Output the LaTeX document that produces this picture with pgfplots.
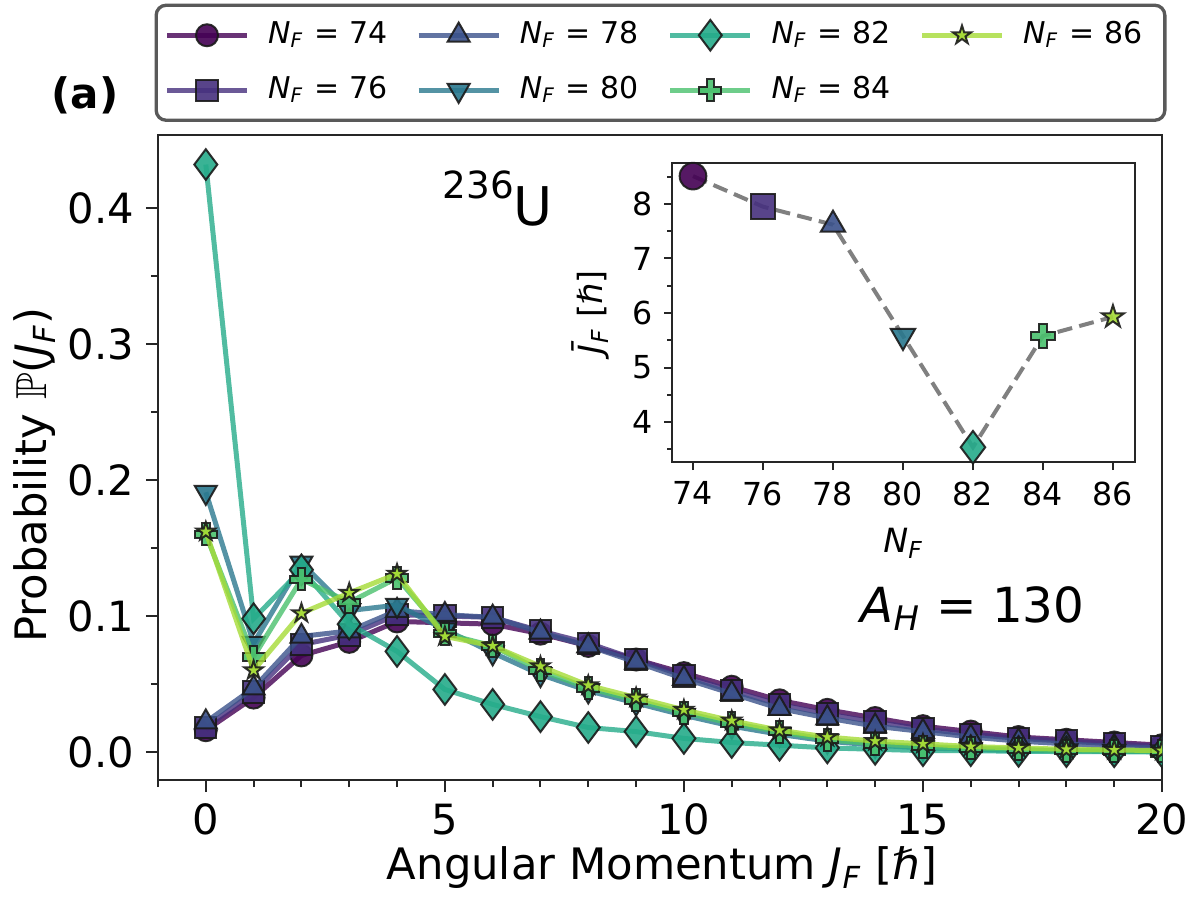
\documentclass[border=0pt]{standalone}
\usepackage{fontspec}
\setmainfont{DejaVu Sans}
\usepackage{amssymb}
\usepackage{pgfplots}
\pgfplotsset{compat=1.18}

\definecolor{c74}{HTML}{440154}
\definecolor{c76}{HTML}{46307E}
\definecolor{c78}{HTML}{3B528B}
\definecolor{c80}{HTML}{2A788E}
\definecolor{c82}{HTML}{25AB8A}
\definecolor{c84}{HTML}{4AC16D}
\definecolor{c86}{HTML}{A5DB36}
\definecolor{edge}{HTML}{1A1A1A}

\pgfdeclareplotmark{fplus}{%
  \pgfpathmoveto{\pgfqpoint{-0.34\pgfplotmarksize}{\pgfplotmarksize}}%
  \pgfpathlineto{\pgfqpoint{0.34\pgfplotmarksize}{\pgfplotmarksize}}%
  \pgfpathlineto{\pgfqpoint{0.34\pgfplotmarksize}{0.34\pgfplotmarksize}}%
  \pgfpathlineto{\pgfqpoint{\pgfplotmarksize}{0.34\pgfplotmarksize}}%
  \pgfpathlineto{\pgfqpoint{\pgfplotmarksize}{-0.34\pgfplotmarksize}}%
  \pgfpathlineto{\pgfqpoint{0.34\pgfplotmarksize}{-0.34\pgfplotmarksize}}%
  \pgfpathlineto{\pgfqpoint{0.34\pgfplotmarksize}{-\pgfplotmarksize}}%
  \pgfpathlineto{\pgfqpoint{-0.34\pgfplotmarksize}{-\pgfplotmarksize}}%
  \pgfpathlineto{\pgfqpoint{-0.34\pgfplotmarksize}{-0.34\pgfplotmarksize}}%
  \pgfpathlineto{\pgfqpoint{-\pgfplotmarksize}{-0.34\pgfplotmarksize}}%
  \pgfpathlineto{\pgfqpoint{-\pgfplotmarksize}{0.34\pgfplotmarksize}}%
  \pgfpathlineto{\pgfqpoint{-0.34\pgfplotmarksize}{0.34\pgfplotmarksize}}%
  \pgfpathclose\pgfusepathqfillstroke}
\pgfdeclareplotmark{fstar}{%
  \pgfpathmoveto{\pgfqpoint{0pt}{\pgfplotmarksize}}%
  \pgfpathlineto{\pgfqpoint{-0.2245\pgfplotmarksize}{0.309\pgfplotmarksize}}%
  \pgfpathlineto{\pgfqpoint{-0.9511\pgfplotmarksize}{0.309\pgfplotmarksize}}%
  \pgfpathlineto{\pgfqpoint{-0.3633\pgfplotmarksize}{-0.118\pgfplotmarksize}}%
  \pgfpathlineto{\pgfqpoint{-0.5878\pgfplotmarksize}{-0.809\pgfplotmarksize}}%
  \pgfpathlineto{\pgfqpoint{0pt}{-0.382\pgfplotmarksize}}%
  \pgfpathlineto{\pgfqpoint{0.5878\pgfplotmarksize}{-0.809\pgfplotmarksize}}%
  \pgfpathlineto{\pgfqpoint{0.3633\pgfplotmarksize}{-0.118\pgfplotmarksize}}%
  \pgfpathlineto{\pgfqpoint{0.9511\pgfplotmarksize}{0.309\pgfplotmarksize}}%
  \pgfpathlineto{\pgfqpoint{0.2245\pgfplotmarksize}{0.309\pgfplotmarksize}}%
  \pgfpathclose\pgfusepathqfillstroke}

\newcommand{\sub}[1]{\textsubscript{\textit{#1}}}
\newcommand{\NF}{\textit{N}\sub{F}}

\pgfplotsset{
  base/.style={line width=1.5pt, opacity=0.8},
  s74/.style={base, color=c74, mark=*, mark size=3.3pt, mark options={solid, fill=c74, draw=edge, line width=0.6pt, opacity=0.9}},
  s76/.style={base, color=c76, mark=square*, mark size=3.2pt, mark options={solid, fill=c76, draw=edge, line width=0.6pt, opacity=0.9}},
  s78/.style={base, color=c78, mark=triangle*, mark size=3.8pt, mark options={solid, fill=c78, draw=edge, line width=0.6pt, opacity=0.9}},
  s80/.style={base, color=c80, mark=triangle*, mark size=3.8pt, mark options={solid, fill=c80, draw=edge, line width=0.6pt, opacity=0.9, rotate=180}},
  s82/.style={base, color=c82, mark=diamond*, mark size=4.6pt, mark options={solid, fill=c82, draw=edge, line width=0.6pt, opacity=0.9}},
  s84/.style={base, color=c84, mark=fplus, mark size=3.3pt, mark options={solid, fill=c84, draw=edge, line width=0.6pt, opacity=0.9}},
  s86/.style={base, color=c86, mark=fstar, mark size=2.9pt, mark options={solid, fill=c86, draw=edge, line width=0.6pt, opacity=0.9}},
}

\pgfplotstableread{
J   p74    p76    p78    p80    p82    p84    p86
0   0.016  0.018  0.022  0.191  0.432  0.160  0.162
1   0.040  0.044  0.047  0.080  0.098  0.070  0.060
2   0.071  0.079  0.085  0.139  0.134  0.127  0.102
3   0.081  0.086  0.089  0.104  0.094  0.110  0.117
4   0.096  0.101  0.104  0.108  0.074  0.128  0.131
5   0.095  0.100  0.101  0.090  0.046  0.087  0.085
6   0.094  0.099  0.099  0.073  0.035  0.078  0.078
7   0.087  0.089  0.088  0.057  0.026  0.060  0.063
8   0.078  0.080  0.078  0.045  0.018  0.047  0.049
9   0.068  0.068  0.066  0.036  0.015  0.038  0.040
10  0.058  0.056  0.054  0.027  0.010  0.029  0.031
11  0.048  0.045  0.043  0.019  0.007  0.021  0.023
12  0.038  0.035  0.032  0.013  0.005  0.015  0.016
13  0.031  0.028  0.025  0.008  0.003  0.009  0.011
14  0.025  0.022  0.019  0.005  0.002  0.006  0.008
15  0.019  0.017  0.015  0.003  0.001  0.004  0.006
16  0.015  0.013  0.011  0.002  0.001  0.003  0.004
17  0.011  0.010  0.008  0.001  0.0005 0.002  0.003
18  0.009  0.008  0.006  0.001  0.0003 0.001  0.002
19  0.007  0.006  0.004  0.0005 0.0002 0.001  0.0015
20  0.005  0.004  0.003  0.0003 0.0001 0.0005 0.001
}\probtable

\begin{document}
\begin{tikzpicture}
\begin{axis}[
  at={(0,0)}, anchor=south west,
  scale only axis, width=301.2pt, height=193.5pt,
  xmin=-1, xmax=20, ymin=-0.0206, ymax=0.4537,
  xtick={0,5,10,15,20},
  minor xtick={-1,1,2,3,4,6,7,8,9,11,12,13,14,16,17,18,19},
  ytick={0,0.1,0.2,0.3,0.4},
  minor ytick={0.05,0.15,0.25,0.35},
  scaled y ticks=false,
  yticklabel style={/pgf/number format/fixed, /pgf/number format/precision=1, /pgf/number format/fixed zerofill},
  /pgf/number format/assume math mode=true,
  tick pos=left, tick align=outside,
  major tick length=3.6pt, minor tick length=2.1pt,
  every tick/.style={black!85, line width=0.6pt},
  axis line style={black!85, line width=0.6pt},
  tick label style={font=\fontsize{12.5}{14}\selectfont},
  label style={font=\fontsize{13}{15}\selectfont},
  xlabel={Angular Momentum \textit{J}\sub{F} [\textit{ℏ}]},
  ylabel={Probability $\mathbb{P}$(\textit{J}\sub{F})},
  xlabel style={at={(axis description cs:0.502,-0.1364)}, anchor=center},
  ylabel style={at={(axis description cs:-0.1225,0.473)}, anchor=center},
  clip marker paths=true,
  legend columns=4,
  legend cell align=left,
  legend image code/.code={\draw[mark repeat=2, mark phase=2] plot coordinates {(0pt,0pt) (12pt,0pt) (24pt,0pt)};},
  legend style={at={(axis description cs:0.5005,1.112)}, anchor=center,
    draw=black!65, line width=1pt, rounded corners=3pt,
    font=\fontsize{9}{11}\selectfont,
    inner xsep=2.5pt, inner ysep=2.5pt, row sep=3.5pt,
    nodes={text width=38pt, align=left, inner xsep=2pt, inner ysep=2pt, text height=7pt, text depth=2pt},
    /tikz/every odd column/.append style={column sep=3.6pt},
    /tikz/every even column/.append style={column sep=4.4pt}},
]
\addplot[s74, forget plot] table[x=J, y=p74] {\probtable};
\addplot[s76, forget plot] table[x=J, y=p76] {\probtable};
\addplot[s78, forget plot] table[x=J, y=p78] {\probtable};
\addplot[s80, forget plot] table[x=J, y=p80] {\probtable};
\addplot[s82, forget plot] table[x=J, y=p82] {\probtable};
\addplot[s84, forget plot] table[x=J, y=p84] {\probtable};
\addplot[s86, forget plot] table[x=J, y=p86] {\probtable};
\addlegendimage{s74}\addlegendentry{\NF{} = 74}
\addlegendimage{s78}\addlegendentry{\NF{} = 78}
\addlegendimage{s82}\addlegendentry{\NF{} = 82}
\addlegendimage{s86}\addlegendentry{\NF{} = 86}
\addlegendimage{s76}\addlegendentry{\NF{} = 76}
\addlegendimage{s80}\addlegendentry{\NF{} = 80}
\addlegendimage{s84}\addlegendentry{\NF{} = 84}
\end{axis}

\begin{axis}[
  at={(154.2pt,95.4pt)}, anchor=south west,
  scale only axis, width=138.9pt, height=89.7pt,
  xmin=73.4, xmax=86.63, ymin=3.27, ymax=8.75,
  xtick={74,76,78,80,82,84,86},
  ytick={4,5,6,7,8},
  minor ytick={3.5,4.5,5.5,6.5,7.5,8.5},
  /pgf/number format/assume math mode=true,
  tick pos=left, tick align=outside,
  major tick length=2.4pt, minor tick length=1.4pt,
  every tick/.style={black!85, line width=0.6pt},
  axis line style={black!85, line width=0.6pt},
  axis background/.style={fill=white},
  tick label style={font=\fontsize{9.5}{11}\selectfont},
  label style={font=\fontsize{10}{12}\selectfont},
  xlabel={\NF},
  ylabel={\textit{\=J}\sub{F} [\textit{ℏ}]},
  clip=false,
]
\addplot[color=gray, line width=1.2pt, dash pattern=on 4.5pt off 2.2pt] coordinates {
 (74,8.51) (76,7.95) (78,7.62) (80,5.58) (82,3.54) (84,5.58) (86,5.93)};
\addplot[s74, only marks, mark size=4.0pt] coordinates {(74,8.51)};
\addplot[s76, only marks, mark size=3.7pt] coordinates {(76,7.95)};
\addplot[s78, only marks, mark size=4.2pt] coordinates {(78,7.62)};
\addplot[s80, only marks, mark size=4.2pt] coordinates {(80,5.58)};
\addplot[s82, only marks, mark size=4.9pt] coordinates {(82,3.54)};
\addplot[s84, only marks, mark size=3.6pt] coordinates {(84,5.58)};
\addplot[s86, only marks, mark size=3.5pt] coordinates {(86,5.93)};
\end{axis}

\node[anchor=center, inner sep=0pt, font=\fontsize{12.6}{14}\selectfont\bfseries] at (-21.9pt,205.5pt) {(a)};
\node[anchor=base west, inner sep=0pt, font=\fontsize{16}{18}\selectfont] at (85.2pt,166.5pt) {\raisebox{8pt}{\fontsize{11.2}{12}\selectfont 236}U};
\node[anchor=base west, inner sep=0pt, font=\fontsize{14.5}{16}\selectfont] at (210.6pt,47.4pt) {\textit{A}\sub{H} = 130};

\pgfresetboundingbox
\path[use as bounding box] (-47.4pt,-34.8pt) rectangle (308.7pt,234pt);
\end{tikzpicture}
\end{document}
